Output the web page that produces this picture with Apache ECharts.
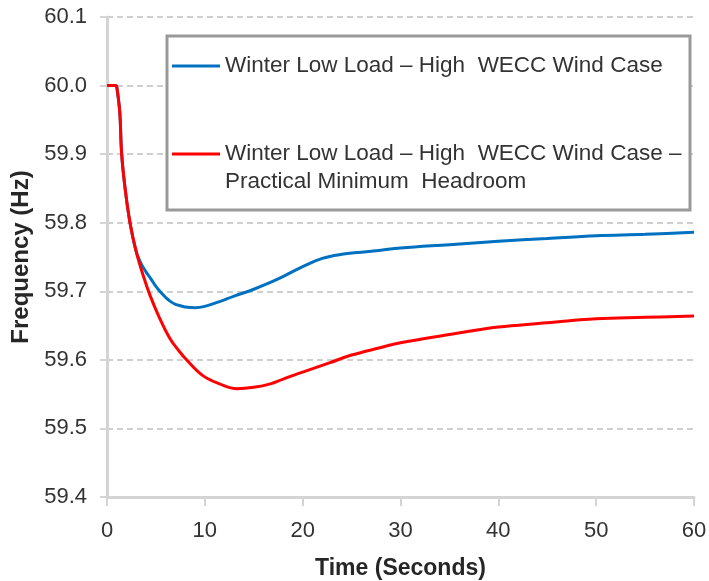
<!DOCTYPE html>
<html>
<head>
<meta charset="utf-8">
<script src="https://cdn.jsdelivr.net/npm/echarts@6/dist/echarts.min.js"></script>
<style>html,body{margin:0;padding:0;background:#fff;}#chart{width:709px;height:581px;}</style>
</head>
<body>
<div id="chart"></div>
<script>
const seriesNames = [
  'Winter Low Load \u2013 High  WECC Wind Case',
  'Winter Low Load \u2013 High  WECC Wind Case \u2013\nPractical Minimum  Headroom'
];
const xTicks = [0, 10, 20, 30, 40, 50, 60];
const yTicks = [59.4, 59.5, 59.6, 59.7, 59.8, 59.9, 60.0, 60.1];

const blueTime = [0, 0.9, 1.0, 1.3, 1.5, 1.85, 2.35, 3.0, 3.5, 4.0, 4.4, 5.0, 5.4, 6.0, 6.4, 7.0, 7.5, 8.0, 9, 10, 11.5, 13, 15, 17.5, 20, 22, 24, 26, 28, 30, 35, 40, 45, 50, 55, 60];
const blueFreq = [60.0, 60.0, 59.998, 59.962, 59.90, 59.85, 59.80, 59.757, 59.740, 59.728, 59.720, 59.707, 59.700, 59.691, 59.686, 59.681, 59.679, 59.677, 59.676, 59.678, 59.685, 59.693, 59.703, 59.718, 59.736, 59.748, 59.754, 59.757, 59.760, 59.763, 59.768, 59.773, 59.777, 59.781, 59.783, 59.786];

const redTime = [0, 0.9, 1.0, 1.3, 1.5, 1.85, 2.35, 3.0, 3.7, 4.4, 5.25, 6.4, 7.3, 8.2, 9.8, 11.5, 13.3, 15, 16.7, 18, 20, 22.8, 25, 28, 30, 35, 38, 40, 45, 48, 50, 55, 60];
const redFreq = [60.0, 60.0, 59.998, 59.962, 59.90, 59.85, 59.80, 59.757, 59.723, 59.694, 59.665, 59.632, 59.614, 59.599, 59.577, 59.565, 59.558, 59.560, 59.565, 59.572, 59.582, 59.596, 59.607, 59.618, 59.625, 59.637, 59.644, 59.648, 59.654, 59.658, 59.660, 59.662, 59.664];

const zip = (xs, ys) => xs.map((x, i) => [x, ys[i]]);

const chart = echarts.init(document.getElementById('chart'), null, {renderer: 'canvas'});
const font = "'Liberation Sans', Arial, sans-serif";
chart.setOption({
  animation: false,
  backgroundColor: '#fff',
  grid: {left: 107, right: 15, top: 17, bottom: 84, containLabel: false, outerBoundsMode: 'none'},
  xAxis: {
    type: 'value', min: xTicks[0], max: xTicks[xTicks.length - 1], interval: 10,
    name: 'Time (Seconds)', nameLocation: 'middle', nameGap: 60,
    nameTextStyle: {fontFamily: font, fontSize: 23, fontWeight: 'bold', color: '#262626'},
    axisLine: {lineStyle: {color: '#d4d4d4', width: 3}},
    axisTick: {show: true, length: 9, lineStyle: {color: '#d4d4d4', width: 2}},
    axisLabel: {fontFamily: font, fontSize: 22, color: '#333', margin: 23},
    splitLine: {show: false}
  },
  yAxis: {
    type: 'value', min: yTicks[0], max: yTicks[yTicks.length - 1], interval: 0.1,
    name: 'Frequency (Hz)', nameLocation: 'middle', nameGap: 66,
    nameTextStyle: {fontFamily: font, fontSize: 24, fontWeight: 'bold', color: '#262626'},
    axisLine: {show: true, lineStyle: {color: '#d4d4d4', width: 3}},
    axisTick: {show: true, length: 7, lineStyle: {color: '#d4d4d4', width: 2}},
    axisLabel: {fontFamily: font, fontSize: 22, color: '#333', margin: 20, formatter: v => v.toFixed(1)},
    splitLine: {show: true, lineStyle: {color: '#d0d0d0', width: 2, type: [6, 4]}}
  },
  legend: {
    orient: 'vertical', left: 172, top: 52, itemGap: 32,
    itemWidth: 48, itemHeight: 3, icon: 'rect', z: 5,
    padding: 0,
    textStyle: {fontFamily: font, fontSize: 22.5, color: '#333', lineHeight: 28},
    formatter: name => name === seriesNames[1] ? ' \n' + name : name,
    data: seriesNames
  },
  graphic: [{
    type: 'rect', z: 4, silent: true,
    shape: {x: 167, y: 36, width: 523, height: 174},
    style: {fill: '#fff', stroke: '#999', lineWidth: 3}
  }],
  series: [
    {
      name: seriesNames[0], type: 'line', data: zip(blueTime, blueFreq),
      showSymbol: false, smooth: 0.4,
      lineStyle: {color: '#0070C0', width: 3}, itemStyle: {color: '#0070C0'}, z: 3
    },
    {
      name: seriesNames[1], type: 'line', data: zip(redTime, redFreq),
      showSymbol: false, smooth: 0.4,
      lineStyle: {color: '#FF0000', width: 3}, itemStyle: {color: '#FF0000'}, z: 3
    }
  ]
});
</script>
</body>
</html>
